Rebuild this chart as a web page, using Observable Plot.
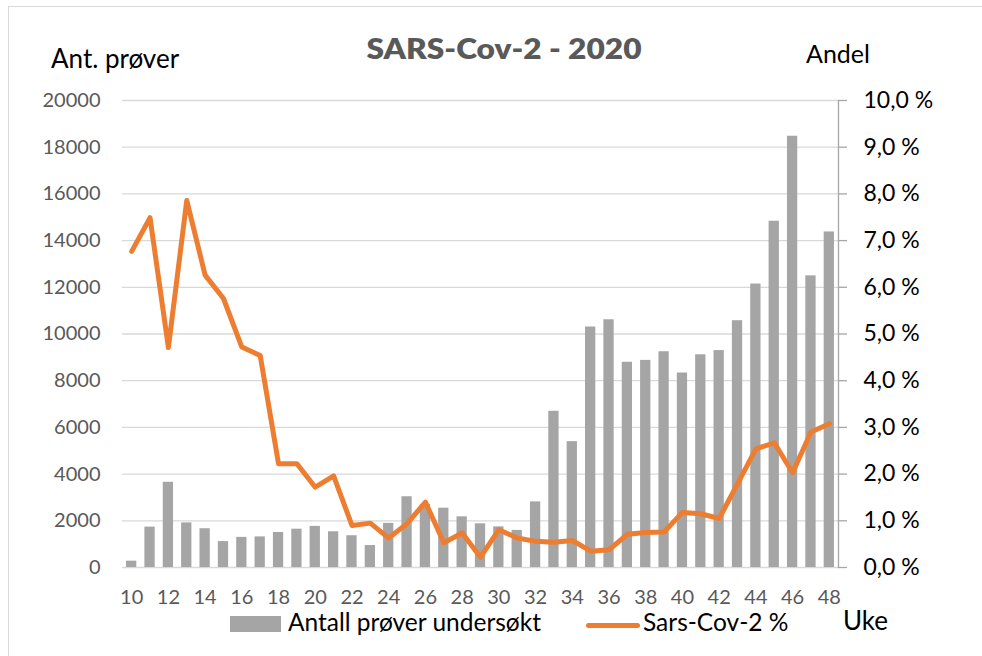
<!DOCTYPE html>
<html>
<head>
<meta charset="utf-8">
<script src="https://cdn.jsdelivr.net/npm/d3@7"></script>
<script src="https://cdn.jsdelivr.net/npm/@observablehq/plot@0.6"></script>
<style>
  html, body { margin: 0; padding: 0; background: #fff; }
  body { width: 982px; height: 656px; position: relative; overflow: hidden; font-family: Lato, "Open Sans", sans-serif; }
  #frame { position: absolute; left: 8px; top: 6px; width: 1000px; height: 700px; border-left: 1.5px solid #d9d9d9; border-top: 1.5px solid #d9d9d9; }
  .t { position: absolute; line-height: 1; white-space: nowrap; }
  #chart { position: absolute; left: 0; top: 0; }
</style>
</head>
<body>
<div id="frame"></div>
<div id="chart"></div>
<div class="t" id="title" style="left:504px; top:34px; transform:translateX(-50%) scaleX(1.13); font-size:28px; font-weight:800; color:#595959;">SARS-Cov-2 - 2020</div>
<div class="t" style="left:51px; top:45px; font-size:26px; color:#000;">Ant. prøver</div>
<div class="t" style="left:806px; top:41px; font-size:25px; color:#000;">Andel</div>
<div style="position:absolute; left:230px; top:616px; width:51px; height:16px; background:#a5a5a5;"></div>
<div class="t" style="left:288px; top:610px; font-size:24.5px; color:#000;">Antall prøver undersøkt</div>
<div style="position:absolute; left:586px; top:623px; width:54px; height:5px; border-radius:3px; background:#ed7d31;"></div>
<div class="t" style="left:643px; top:610px; font-size:24.5px; color:#000;">Sars-Cov-2 %</div>
<div class="t" style="left:843px; top:607px; font-size:26px; color:#000;">Uke</div>
<script>
const weeks = [10,11,12,13,14,15,16,17,18,19,20,21,22,23,24,25,26,27,28,29,30,31,32,33,34,35,36,37,38,39,40,41,42,43,44,45,46,47,48];
const samples = [270,1730,3650,1910,1660,1110,1290,1310,1500,1640,1760,1530,1360,940,1890,3030,2700,2540,2170,1870,1740,1590,2810,6690,5390,10300,10610,8790,8870,9240,8330,9110,9290,10570,12140,14830,18470,12490,14370];
const positivePct = [6.77,7.49,4.71,7.86,6.26,5.76,4.72,4.54,2.22,2.22,1.72,1.96,0.90,0.95,0.63,0.94,1.40,0.53,0.74,0.22,0.81,0.63,0.56,0.54,0.58,0.35,0.38,0.71,0.75,0.76,1.18,1.15,1.05,1.79,2.54,2.67,2.03,2.90,3.08];
const leftTicks = [0,2000,4000,6000,8000,10000,12000,14000,16000,18000,20000];
const rightTickLabels = ["0,0 %","1,0 %","2,0 %","3,0 %","4,0 %","5,0 %","6,0 %","7,0 %","8,0 %","9,0 %","10,0 %"];
const weekTicks = [10,12,14,16,18,20,22,24,26,28,30,32,34,36,38,40,42,44,46,48];

const yMax = 20000, pctMax = 10;
const rows = weeks.map((w, i) => ({week: w, samples: samples[i], pct: positivePct[i]}));

const chart = Plot.plot({
  width: 982,
  height: 656,
  marginLeft: 122,
  marginRight: 144,
  marginTop: 100,
  marginBottom: 89,
  style: {fontFamily: "Lato, 'Open Sans', sans-serif", background: "transparent", overflow: "visible"},
  x: {type: "band", domain: weeks, paddingInner: 0.44, paddingOuter: 0.22, round: false},
  y: {domain: [0, yMax]},
  marks: [
    Plot.ruleY(leftTicks, {stroke: "#d9d9d9", strokeWidth: 1.3}),
    Plot.barY(rows, {x: "week", y: "samples", fill: "#a5a5a5"}),
    Plot.lineY(rows, {x: "week", y: d => d.pct / pctMax * yMax, stroke: "#ed7d31", strokeWidth: 5, strokeLinejoin: "round", strokeLinecap: "round"}),
    Plot.frame({anchor: "right", stroke: "#a6a6a6", strokeWidth: 1.3}),
    Plot.axisY({anchor: "left", ticks: leftTicks, tickSize: 0, tickPadding: 22, fontSize: 20, fill: "#595959", label: null, tickFormat: d => String(d)}),
    Plot.axisY({anchor: "right", ticks: leftTicks, tickSize: 8, tickPadding: 17, fontSize: 23, fill: "#000", stroke: "#a6a6a6", strokeWidth: 1.3,
      tickFormat: d => rightTickLabels[leftTicks.indexOf(d)], label: null}),
    Plot.axisX({anchor: "bottom", ticks: weekTicks, tickSize: 0, tickPadding: 22, fontSize: 20, fill: "#595959", label: null})
  ]
});
document.getElementById("chart").appendChild(chart);
</script>
</body>
</html>
